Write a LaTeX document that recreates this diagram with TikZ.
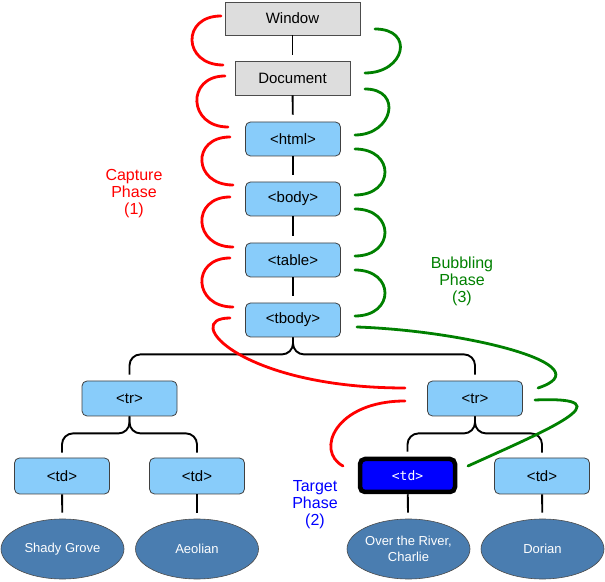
\documentclass[tikz,border=0pt]{standalone}
\usepackage{fontspec}
\setmainfont{Liberation Sans}
\newfontfamily\monofont{DejaVu Sans Mono}
\usetikzlibrary{shapes.geometric,calc}
\definecolor{grayfill}{HTML}{DDDDDD}
\definecolor{bluefill}{HTML}{88CCFA}
\definecolor{ellfill}{HTML}{4A7DB0}
\definecolor{capred}{HTML}{FF0000}
\definecolor{bubgreen}{HTML}{008000}
\begin{document}
\begin{tikzpicture}[x=1pt,y=1pt,
  graybox/.style={draw=black!70, fill=grayfill, line width=0.8pt, inner sep=0pt, font=\fontsize{15}{17}\selectfont},
  bluebox/.style={draw=black!75, fill=bluefill, rounded corners=5pt, line width=0.8pt, minimum width=95pt, minimum height=34pt, inner sep=0pt, font=\fontsize{15}{17}\selectfont},
  targetbox/.style={draw=black, fill=blue, rounded corners=5pt, line width=4.5pt, minimum width=95pt, minimum height=33pt, inner sep=0pt, text=white, font=\monofont\fontsize{13}{15}\selectfont},
  leaf/.style={ellipse, draw=black!70, fill=ellfill, line width=0.6pt, minimum width=123pt, minimum height=60pt, inner sep=0pt, text=white, align=center, font=\fontsize{13}{16}\selectfont},
  conn/.style={line width=1.9pt, black},
  brace/.style={conn, rounded corners=11pt},
  capture/.style={line width=2.8pt, capred, line cap=round},
  bubble/.style={line width=2.8pt, bubgreen, line cap=round},
  phase/.style={align=center, font=\fontsize{16}{17}\selectfont}]
\useasboundingbox (0,0) rectangle (605,581);

% nodes
\node[graybox, minimum width=135pt, minimum height=33pt] (win) at (292.5,562.5) {Window};
\node[graybox, minimum width=115pt, minimum height=34pt] (doc) at (292.5,503) {Document};
\node[bluebox] (html) at (293,442) {<html>};
\node[bluebox] (body) at (293,382) {<body>};
\node[bluebox] (table) at (293,321) {<table>};
\node[bluebox] (tbody) at (293,261) {<tbody>};
\node[bluebox, minimum height=35pt] (trL) at (129.5,182.5) {<tr>};
\node[bluebox, minimum height=35pt] (trR) at (475,182.5) {<tr>};
\node[bluebox, minimum height=36pt] (td1) at (62,105) {<td>};
\node[bluebox, minimum height=36pt] (td2) at (197,105) {<td>};
\node[targetbox] (tdT) at (407.5,105.5) {<td>};
\node[bluebox, minimum height=36pt] (td4) at (542,105) {<td>};
\node[leaf] (e1) at (62.5,32) {Shady Grove};
\node[leaf] (e2) at (197,32) {Aeolian};
\node[leaf] (e3) at (408.5,32) {Over the River,\\Charlie};
\node[leaf] (e4) at (542.5,32) {Dorian};

% tree connectors
\draw[conn, shorten >=6pt] (win) -- (doc);
\draw[conn, shorten >=7pt] (doc) -- (html);
\draw[conn, shorten >=7pt] (html) -- (body);
\draw[conn, shorten >=7pt] (body) -- (table);
\draw[conn, shorten >=7pt] (table) -- (tbody);
\draw[brace] (tbody.south) -- ++(0pt,-17pt) -| ([yshift=6pt]trL.north);
\draw[brace] (tbody.south) -- ++(0pt,-17pt) -| ([yshift=6pt]trR.north);
\draw[brace] (trL.south) -- ++(0pt,-17pt) -| ([yshift=5pt]td1.north);
\draw[brace] (trL.south) -- ++(0pt,-17pt) -| ([yshift=5pt]td2.north);
\draw[brace] (trR.south) -- ++(0pt,-17pt) -| ([yshift=5pt]tdT.north);
\draw[brace] (trR.south) -- ++(0pt,-17pt) -| ([yshift=5pt]td4.north);
\draw[conn, shorten >=6pt] (td1) -- (e1);
\draw[conn, shorten >=6pt] (td2) -- (e2);
\draw[conn, shorten >=6pt] (tdT) -- (e3);
\draw[conn, shorten >=6pt] (td4) -- (e4);

% capture phase (red)
\draw[capture] (221,565) .. controls (181,565) and (183,516) .. (223,516);
\draw[capture] (225,505) .. controls (186,505) and (188,454) .. (228,454);
\draw[capture] (230,444) .. controls (191,444) and (193,396) .. (233,396);
\draw[capture] (230,384) .. controls (191,384) and (193,334) .. (233,334);
\draw[capture] (230,323) .. controls (191,323) and (193,274) .. (233,274);
\draw[capture] (230,263) .. controls (180,263) and (240,193) .. (405,193);
\draw[capture] (405,180) .. controls (335,180) and (315,130) .. (343,115);

% bubbling phase (green)
\draw[bubble] (375,552) .. controls (415,552) and (405,508) .. (365,508);
\draw[bubble] (365,492) .. controls (403,492) and (393,446) .. (355,446);
\draw[bubble] (355,432) .. controls (395,432) and (395,386) .. (355,386);
\draw[bubble] (355,372) .. controls (395,372) and (395,325) .. (355,325);
\draw[bubble] (355,311) .. controls (395,311) and (395,265) .. (355,265);
\draw[bubble] (357,254) .. controls (470,250) and (605,215) .. (538,193);
\draw[bubble] (468,115) .. controls (545,150) and (630,185) .. (535,181);

% phase labels
\node[phase, text=capred] (lcap) at (134,387) {Capture\\Phase\\(1)};
\node[phase, text=bubgreen] (lbub) at (462,300) {Bubbling\\Phase\\(3)};
\node[phase, text=blue] (ltar) at (315,76) {Target\\Phase\\(2)};
\end{tikzpicture}
\end{document}
